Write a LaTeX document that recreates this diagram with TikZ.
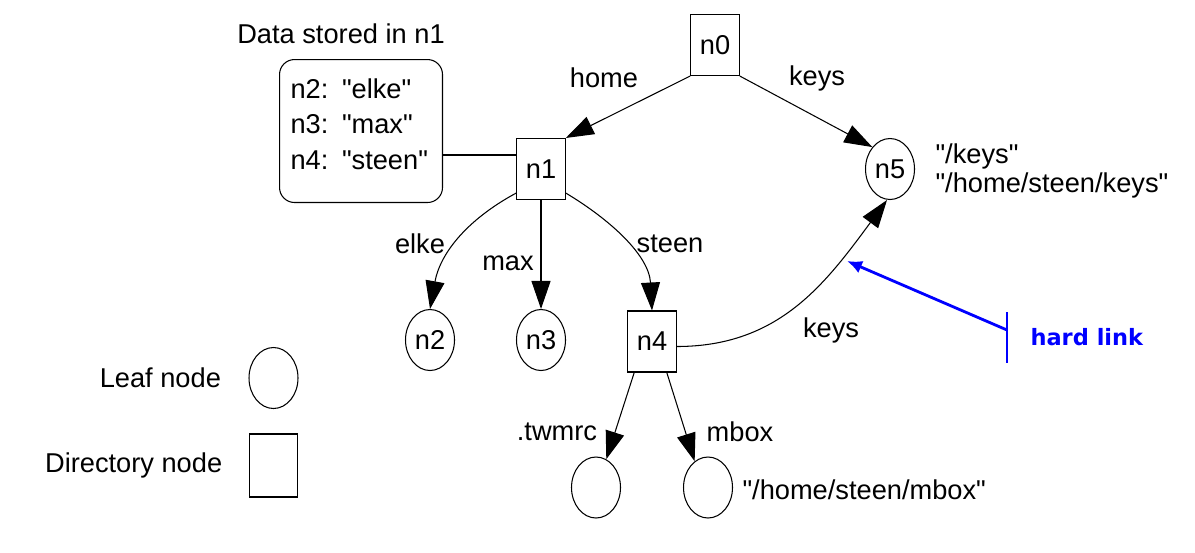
\documentclass[tikz,border=0pt]{standalone}
\usepackage{fontspec}
\setmainfont{Liberation Sans}[Ligatures=TeXOff]
\newfontfamily\hlfont{DejaVu Sans}
\usepackage{tikz}
\usetikzlibrary{shapes.geometric,arrows.meta}
\tikzset{
  dirnode/.style  = {shape=rectangle, draw, minimum width=0.97cm,
                     minimum height=1.22cm, inner sep=0pt},
  leafnode/.style = {shape=ellipse, draw, minimum width=0.98cm,
                     minimum height=1.22cm, inner sep=0pt},
  databox/.style  = {shape=rectangle, rounded corners=0.3cm, draw,
                     align=left, text width=2.82cm, inner xsep=0.22cm,
                     minimum height=2.86cm,
                     font=\fontsize{15.5}{20.2}\selectfont},
  lbl/.style      = {inner sep=0pt},
  link/.style     = {draw, -{Triangle[length=0.56cm,width=0.38cm]}},
  hardlink/.style = {draw=blue, line width=1.6pt,
                     -{Latex[length=0.3cm,width=0.26cm]}}
}
\usetikzlibrary{positioning}

\begin{document}
\begin{tikzpicture}
    [
      x                 = 0.02cm,
      y                 = -0.02cm,
      line width        = 0.6pt,
      every node/.style = {font=\fontsize{15.5}{17}\selectfont}
    ]
    \useasboundingbox (0,0) rectangle (1195,552);
    % the tree
    \node [dirnode]  (n0) at (715,45)    {n0};
    \node [dirnode]  (n1) at (541,169)   {n1};
    \node [leafnode] (n5) at (890,169)   {n5};
    \node [leafnode] (n2) at (430,340)   {n2};
    \node [leafnode] (n3) at (541,340)   {n3};
    \node [dirnode]  (n4) at (652,341.5) {n4};
    \node [leafnode] (tw) at (596,487.5) {};
    \node [leafnode] (mb) at (708,487.5) {};
    % data of n1
    \node [databox, anchor=north west] (data) at (279,59)
      {n2: "elke"\\ n3: "max"\\ n4: "steen"\rule[-0.28cm]{0pt}{0pt}};
    \node [lbl, above=0.3cm of data, xshift=-0.4cm] (title) {Data stored in n1};
    \coordinate (tie) at ([yshift=0.28cm]n1.west);
    \draw (tie) -- (tie -| data.east);
    % edges
    \draw [link] (n0.south west) -- (n1.north east);
    \draw [link] (n0.south east) -- (n5.north west);
    \draw [link] ([yshift=0.14cm]n1.south west)
      .. controls +(-50,27) and +(10,-55) .. (n2.north);
    \draw [link] (n1.south) -- (n3.north);
    \draw [link] ([yshift=0.14cm]n1.south east)
      .. controls +(45,27) and +(-3,-55) .. (n4.north);
    \draw [link] ([yshift=-0.1cm]n4.east)
      .. controls +(102,0) and +(-62,84) .. ([xshift=-0.06cm]n5.south);
    \draw [link] ([xshift=0.14cm]n4.south west) -- (tw.70);
    \draw [link] ([xshift=-0.2cm]n4.south east) -- (mb.117);
    % edge labels
    \node [lbl] (lhome)  at (604,78)  {home};
    \node [lbl] (lkeys)  at (817,78)  {keys};
    \node [lbl] (lelke)  at (420,244) {elke};
    \node [lbl] (lmax)   at (508,263) {max};
    \node [lbl] (lsteen) at (670,244) {steen};
    \node [lbl] (lkeysb) at (831,330) {keys};
    \node [lbl] (ltw)    at (557,432) {.twmrc};
    \node [lbl] (lmbox)  at (740,432) {mbox};
    \node [lbl, anchor=west, align=left] (pathn5) at (935,171)
      {"/keys"\\"/home/steen/keys"};
    \node [lbl, anchor=west] (pathmb) at (742,490) {"/home/steen/mbox"};
    % hard link
    \coordinate (hlfoot) at (1007,330);
    \coordinate (hltop)  at (1007,312);
    \coordinate (hlbot)  at (1007,363);
    \coordinate (hlhit)  at (847,261);
    \draw [hardlink] (hlfoot) -- (hlhit);
    \draw [draw=blue, line width=1.6pt] (hltop) -- (hlbot);
    \node [lbl, anchor=west, text=blue,
           font=\hlfont\bfseries\fontsize{12.8}{14}\selectfont]
      (lhard) at (1030,337) {hard link};
    % legend
    \node [leafnode] (legleaf) at (273.5,378) {};
    \node [dirnode, minimum height=1.26cm] (legdir) at (273.5,465.5) {};
    \node [lbl, left=0.54cm of legleaf] (lleaf) {Leaf node};
    \node [lbl, left=0.52cm of legdir]  (ldir)  {Directory node};
\end{tikzpicture}
\end{document}
